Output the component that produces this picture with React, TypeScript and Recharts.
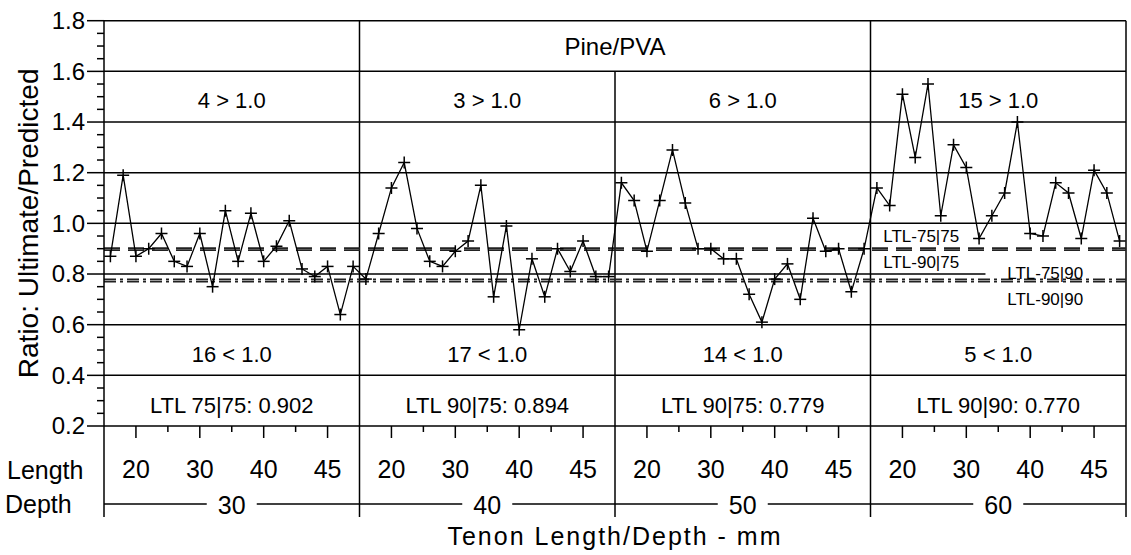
import { ComposedChart, Line, XAxis, YAxis, ReferenceLine, ReferenceArea, ReferenceDot } from "recharts";

const FONT = "'Liberation Sans', Arial, sans-serif";

// ratio values, 20 tenon lengths per depth group
const depth30 = [0.87, 1.19, 0.87, 0.9, 0.96, 0.85, 0.83, 0.96, 0.75, 1.05, 0.85, 1.04, 0.85, 0.91, 1.01, 0.82, 0.79, 0.83, 0.64, 0.83];
const depth40 = [0.78, 0.96, 1.14, 1.24, 0.98, 0.85, 0.83, 0.89, 0.93, 1.15, 0.71, 0.99, 0.58, 0.86, 0.71, 0.9, 0.81, 0.93, 0.79, 0.79];
const depth50 = [1.16, 1.09, 0.89, 1.09, 1.29, 1.08, 0.9, 0.9, 0.86, 0.86, 0.72, 0.61, 0.78, 0.84, 0.7, 1.02, 0.89, 0.9, 0.73, 0.9];
const depth60 = [1.14, 1.07, 1.51, 1.26, 1.55, 1.03, 1.31, 1.22, 0.94, 1.03, 1.12, 1.4, 0.96, 0.95, 1.16, 1.12, 0.94, 1.21, 1.12, 0.93];

const depthLabels = ["30", "40", "50", "60"];
const lengthLabels = ["20", "30", "40", "45"];
const aboveCounts = ["4 > 1.0", "3 > 1.0", "6 > 1.0", "15 > 1.0"];
const belowCounts = ["16 < 1.0", "17 < 1.0", "14 < 1.0", "5 < 1.0"];
const ltlTexts = ["LTL 75|75: 0.902", "LTL 90|75: 0.894", "LTL 90|75: 0.779", "LTL 90|90: 0.770"];

const ltl7575 = 0.902;
const ltl9075 = 0.894;
const ltl7590 = 0.779;
const ltl9090 = 0.77;

const yMajorTicks = [0.2, 0.4, 0.6, 0.8, 1.0, 1.2, 1.4, 1.6, 1.8];
const gridLevels = [0.4, 0.6, 1.0, 1.2, 1.4, 1.6, 1.8];

const groups = [depth30, depth40, depth50, depth60];
const data = groups.flatMap((vals, g) => vals.map((v, i) => ({ x: g * 20 + i + 0.5, ratio: v })));

const yTicks: number[] = [];
for (let k = 0; k <= 32; k++) yTicks.push(Math.round((0.2 + k * 0.05) * 100) / 100);
const xTicks: number[] = [];
for (let k = 0; k <= 32; k++) xTicks.push(k * 2.5);

const LEN = 0;
const DEPTH = 1;

const isMajorY = (v: number) => yMajorTicks.some((m) => Math.abs(m - v) < 1e-6);

const YTick = (props: any) => {
  const { x, y, payload } = props;
  const major = isMajorY(payload.value);
  return (
    <g>
      <line x1={x - (major ? 17 : 7)} x2={x} y1={y} y2={y} stroke="#000" strokeWidth={1.5} />
      {major && (
        <text x={x - 19} y={y} dy="0.35em" textAnchor="end" fontSize={24} fontFamily={FONT} fill="#000">
          {payload.value.toFixed(1)}
        </text>
      )}
    </g>
  );
};

const LenTick = (props: any) => {
  const { x, y, payload } = props;
  const v = payload.value;
  const off = v % 20;
  if (off === 0) {
    return <line x1={x} x2={x} y1={y} y2={y + 91} stroke="#000" strokeWidth={1.5} />;
  }
  if (off % 5 === 2.5) {
    const label = lengthLabels[(off - 2.5) / 5];
    return (
      <g>
        <line x1={x} x2={x} y1={y} y2={y + 12} stroke="#000" strokeWidth={1.5} />
        <text x={x} y={y + 43} dy="0.35em" textAnchor="middle" fontSize={25} fontFamily={FONT} fill="#000">
          {label}
        </text>
      </g>
    );
  }
  return <line x1={x} x2={x} y1={y} y2={y + 6} stroke="#000" strokeWidth={1.5} />;
};

const DepthTick = (props: any) => {
  const { x, y, payload } = props;
  const label = depthLabels[Math.floor(payload.value / 20)];
  return (
    <g>
      <rect x={x - 25} y={y - 10} width={50} height={20} fill="#fff" />
      <text x={x} y={y + 1} dy="0.35em" textAnchor="middle" fontSize={25} fontFamily={FONT} fill="#000">
        {label}
      </text>
    </g>
  );
};

const PlusDot = (props: any) => {
  const { cx, cy, index } = props;
  if (cx == null || cy == null) return <g key={index} />;
  return (
    <g key={index}>
      <line x1={cx - 6} x2={cx + 6} y1={cy} y2={cy} stroke="#000" strokeWidth={1.5} />
      <line x1={cx} x2={cx} y1={cy - 6} y2={cy + 6} stroke="#000" strokeWidth={1.5} />
    </g>
  );
};

const cellLabel = (text: string, size: number, dy: number) => (p: any) => {
  const vb = p.viewBox;
  return (
    <text
      x={vb.x + vb.width / 2}
      y={vb.y + vb.height / 2 + dy}
      dy="0.35em"
      textAnchor="middle"
      fontSize={size}
      fontFamily={FONT}
      fill="#000"
    >
      {text}
    </text>
  );
};

const pointLabel = (text: string, dy: number) => (p: any) => {
  const vb = p.viewBox;
  return (
    <text x={vb.x} y={vb.y + dy} fontSize={17} fontFamily={FONT} fill="#000">
      {text}
    </text>
  );
};

export default function App() {
  return (
    <div style={{ position: "absolute", left: 0, top: 0, background: "#fff" }}>
      <ComposedChart width={1131} height={555} data={data} margin={{ top: 20.7, right: 5, left: 0, bottom: 0 }}>
        <XAxis
          xAxisId={LEN}
          dataKey="x"
          type="number"
          domain={[0, 80]}
          allowDataOverflow
          ticks={xTicks}
          interval={0}
          height={78}
          tickSize={0}
          tickMargin={0}
          tickLine={false}
          axisLine={{ stroke: "#000", strokeWidth: 1.5 }}
          tick={<LenTick />}
          label={(p: any) => (
            <text x={7} y={p.viewBox.y + 44} dy="0.35em" fontSize={25} fontFamily={FONT} fill="#000">
              Length
            </text>
          )}
        />
        <XAxis
          xAxisId={DEPTH}
          dataKey="x"
          type="number"
          domain={[0, 80]}
          allowDataOverflow
          ticks={[10, 30, 50, 70]}
          interval={0}
          height={51}
          tickSize={0}
          tickMargin={0}
          tickLine={false}
          axisLine={{ stroke: "#000", strokeWidth: 1.5 }}
          tick={<DepthTick />}
          label={(p: any) => (
            <g>
              <text x={5} y={p.viewBox.y} dy="0.35em" fontSize={25} fontFamily={FONT} fill="#000">
                Depth
              </text>
              <text
                x={p.viewBox.x + p.viewBox.width / 2}
                y={p.viewBox.y + 32}
                dy="0.35em"
                textAnchor="middle"
                fontSize={25}
                letterSpacing={2}
                fontFamily={FONT}
                fill="#000"
              >
                Tenon Length/Depth - mm
              </text>
            </g>
          )}
        />
        <YAxis
          type="number"
          domain={[0.2, 1.8]}
          allowDataOverflow
          ticks={yTicks}
          interval={0}
          width={104}
          tickSize={0}
          tickMargin={0}
          tickLine={false}
          axisLine={{ stroke: "#000", strokeWidth: 1.5 }}
          tick={<YTick />}
          label={(p: any) => (
            <text
              x={28}
              y={p.viewBox.y + p.viewBox.height / 2}
              transform={`rotate(-90 28 ${p.viewBox.y + p.viewBox.height / 2})`}
              dy="0.35em"
              textAnchor="middle"
              fontSize={28}
              fontFamily={FONT}
              fill="#000"
            >
              Ratio: Ultimate/Predicted
            </text>
          )}
        />

        {gridLevels.map((v) => (
          <ReferenceLine key={"g" + v} xAxisId={LEN} y={v} stroke="#000" strokeWidth={1.5} ifOverflow="visible" />
        ))}
        <ReferenceLine
          xAxisId={LEN}
          segment={[{ x: 0, y: 0.8 }, { x: 69, y: 0.8 }]}
          stroke="#000"
          strokeWidth={1.5}
          ifOverflow="visible"
        />
        <ReferenceLine xAxisId={LEN} segment={[{ x: 20, y: 0.2 }, { x: 20, y: 1.8 }]} stroke="#000" strokeWidth={1.5} ifOverflow="visible" />
        <ReferenceLine xAxisId={LEN} segment={[{ x: 40, y: 0.2 }, { x: 40, y: 1.6 }]} stroke="#000" strokeWidth={1.5} ifOverflow="visible" />
        <ReferenceLine xAxisId={LEN} segment={[{ x: 60, y: 0.2 }, { x: 60, y: 1.8 }]} stroke="#000" strokeWidth={1.5} ifOverflow="visible" />
        <ReferenceLine xAxisId={LEN} x={80} stroke="#000" strokeWidth={1.5} ifOverflow="visible" />

        <ReferenceLine xAxisId={LEN} y={ltl7575} stroke="#222" strokeWidth={1.8} strokeDasharray="16 8" ifOverflow="visible" />
        <ReferenceLine xAxisId={LEN} y={ltl9075} stroke="#222" strokeWidth={1.8} strokeDasharray="16 8" ifOverflow="visible" />
        <ReferenceLine xAxisId={LEN} y={ltl7590} stroke="#222" strokeWidth={1.8} strokeDasharray="12 4 3 4" ifOverflow="visible" />
        <ReferenceLine xAxisId={LEN} y={ltl9090} stroke="#222" strokeWidth={1.8} strokeDasharray="12 4 3 4" ifOverflow="visible" />

        <ReferenceArea xAxisId={LEN} x1={20} x2={60} y1={1.6} y2={1.8} fill="none" strokeWidth={0} label={cellLabel("Pine/PVA", 24, 1)} />
        {groups.map((_, g) => (
          <ReferenceArea
            key={"ab" + g}
            xAxisId={LEN}
            x1={g * 20}
            x2={g * 20 + 20}
            y1={1.4}
            y2={1.6}
            fill="none"
            strokeWidth={0}
            label={cellLabel(aboveCounts[g], 22, 4)}
          />
        ))}
        {groups.map((_, g) => (
          <ReferenceArea
            key={"be" + g}
            xAxisId={LEN}
            x1={g * 20}
            x2={g * 20 + 20}
            y1={0.4}
            y2={0.6}
            fill="none"
            strokeWidth={0}
            label={cellLabel(belowCounts[g], 22, 4)}
          />
        ))}
        {groups.map((_, g) => (
          <ReferenceArea
            key={"lt" + g}
            xAxisId={LEN}
            x1={g * 20}
            x2={g * 20 + 20}
            y1={0.2}
            y2={0.4}
            fill="none"
            strokeWidth={0}
            label={cellLabel(ltlTexts[g], 22, 5)}
          />
        ))}

        <ReferenceDot xAxisId={LEN} x={61} y={ltl7575} r={0} fill="none" stroke="none" label={pointLabel("LTL-75|75", -6)} />
        <ReferenceDot xAxisId={LEN} x={61} y={ltl9075} r={0} fill="none" stroke="none" label={pointLabel("LTL-90|75", 18)} />
        <ReferenceDot xAxisId={LEN} x={70.7} y={ltl7590} r={0} fill="none" stroke="none" label={pointLabel("LTL-75|90", 0)} />
        <ReferenceDot xAxisId={LEN} x={70.7} y={ltl9090} r={0} fill="none" stroke="none" label={pointLabel("LTL-90|90", 23)} />

        <Line
          xAxisId={LEN}
          type="linear"
          dataKey="ratio"
          stroke="#000"
          strokeWidth={1.3}
          dot={PlusDot}
          activeDot={false}
          isAnimationActive={false}
        />
      </ComposedChart>
    </div>
  );
}
